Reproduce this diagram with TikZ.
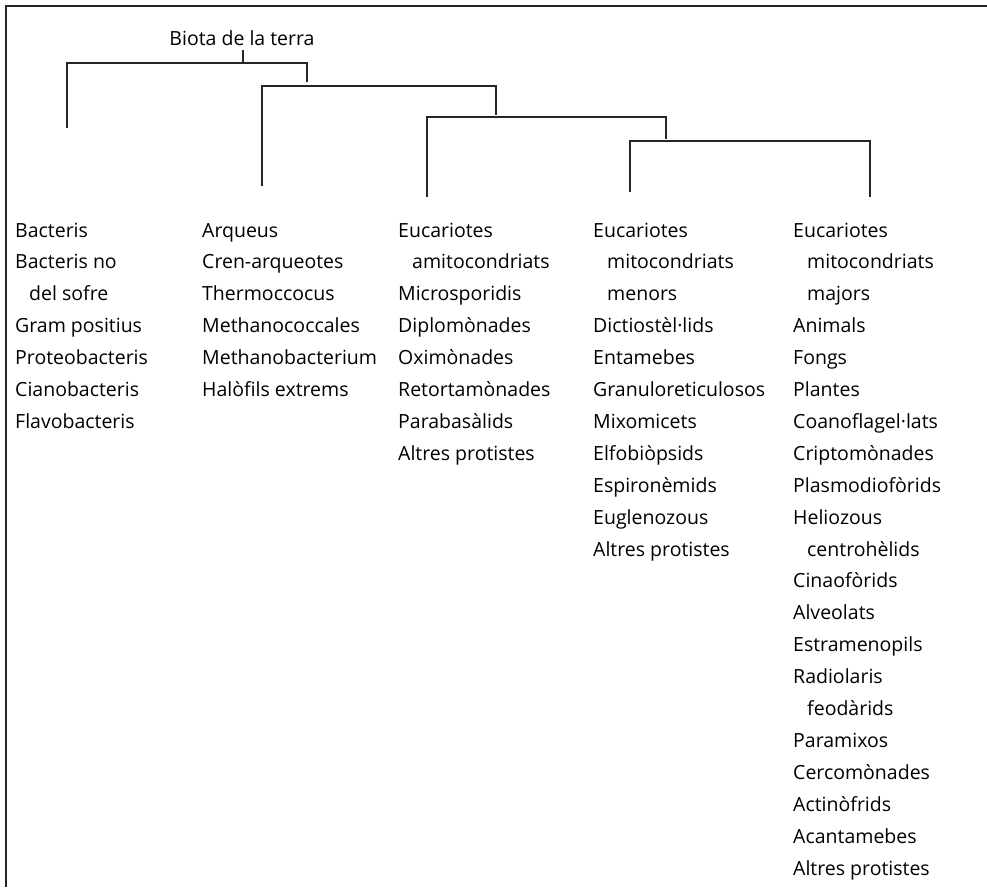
\documentclass[tikz,border=0pt]{standalone}
\usepackage{fontspec}
\setmainfont{Open Sans}
\begin{document}
\begin{tikzpicture}[x=1pt,y=-1pt,
  link/.style={line width=1.1pt,color=black!85},
  frameline/.style={line width=1.4pt,color=black!85},
  leaf/.style={anchor=base west,inner sep=0pt,font=\fontsize{19.5}{23}\selectfont},
  title/.style={anchor=base,inner sep=0pt,font=\fontsize{19.5}{23}\selectfont}]
\useasboundingbox (0,0) rectangle (987,887);
% open frame: top and left edges only
\draw[frameline] (6,887) -- (6,6) -- (987,6);

% title
\node[title] (root) at (242,45) {Biota de la terra};

% leaf columns
\def\rowgap{31.9}
\def\ind{\hspace*{14pt}}
\foreach \t [count=\i] in {Bacteris,Bacteris no,\ind del sofre,Gram positius,Proteobacteris,Cianobacteris,Flavobacteris}
  \node[leaf] (bac-\i) at (15,{237+\rowgap*(\i-1)}) {\t};
\foreach \t [count=\i] in {Arqueus,Cren-arqueotes,Thermoccocus,Methanococcales,Methanobacterium,Halòfils extrems}
  \node[leaf] (arq-\i) at (202,{237+\rowgap*(\i-1)}) {\t};
\foreach \t [count=\i] in {Eucariotes,\ind amitocondriats,Microsporidis,Diplomònades,Oximònades,Retortamònades,Parabasàlids,Altres protistes}
  \node[leaf] (ami-\i) at (398,{237+\rowgap*(\i-1)}) {\t};
\foreach \t [count=\i] in {Eucariotes,\ind mitocondriats,\ind menors,Dictiostèl·lids,Entamebes,Granuloreticulosos,Mixomicets,Elfobiòpsids,Espironèmids,Euglenozous,Altres protistes}
  \node[leaf] (men-\i) at (593,{237+\rowgap*(\i-1)}) {\t};
\foreach \t [count=\i] in {Eucariotes,\ind mitocondriats,\ind majors,Animals,Fongs,Plantes,Coanoflagel·lats,Criptomònades,Plasmodiofòrids,Heliozous,\ind centrohèlids,Cinaofòrids,Alveolats,Estramenopils,Radiolaris,\ind feodàrids,Paramixos,Cercomònades,Actinòfrids,Acantamebes,Altres protistes}
  \node[leaf] (maj-\i) at (793,{237+\rowgap*(\i-1)}) {\t};

% branch points and branch ends
\coordinate (rt) at (243,50);
\coordinate (h1) at (243,63);
\coordinate (h2) at (307,86);
\coordinate (h3) at (496,117);
\coordinate (h4) at (666,141);
\coordinate (bacEnd) at (67,128);
\coordinate (arqEnd) at (262,186);
\coordinate (amiEnd) at (427,197);
\coordinate (menEnd) at (630,192);
\coordinate (majEnd) at (870,197);
\coordinate (d1) at (307,82);
\coordinate (d2) at (496,115);
\coordinate (d3) at (666,139);

% cladogram
\draw[link] (rt) -- (h1);
\draw[link] (bacEnd) |- (h1) -| (d1);
\draw[link] (arqEnd) |- (h2) -| (d2);
\draw[link] (amiEnd) |- (h3) -| (d3);
\draw[link] (menEnd) |- (h4) -| (majEnd);
\end{tikzpicture}
\end{document}
